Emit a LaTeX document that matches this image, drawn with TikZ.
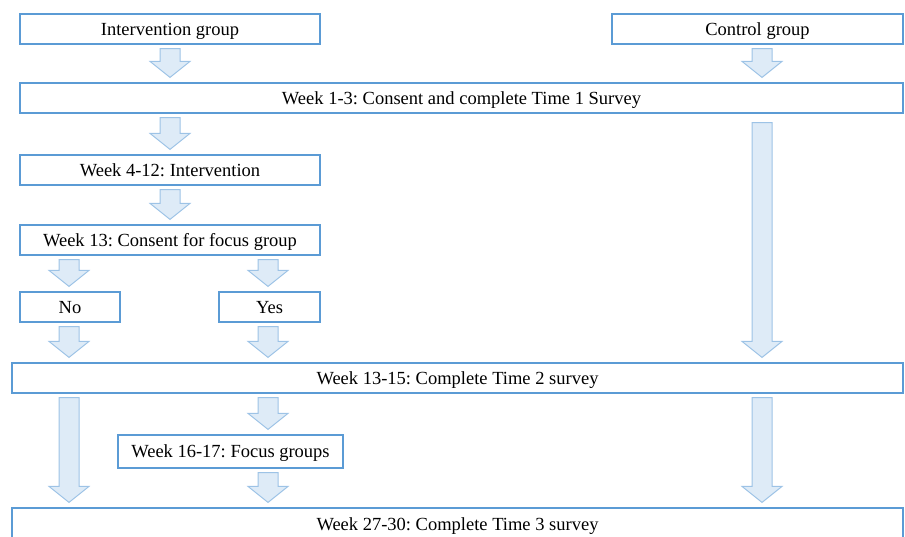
\documentclass[tikz,border=0pt]{standalone}
\usepackage{fontspec}
\setmainfont{Liberation Serif}
\usepackage{tikz}
\usetikzlibrary{calc,positioning}
\frenchspacing
\definecolor{boxblue}{RGB}{91,155,213}
\definecolor{arrline}{RGB}{157,195,230}
\definecolor{arrfill}{RGB}{222,235,247}
\tikzset{
    stagebox/.style={rectangle, draw=boxblue, line width=1.2pt, fill=white, minimum height=30, inner sep=2pt, text height=14pt, text depth=2pt, font=\fontsize{18.5}{22}\selectfont},
    flowarrow/.style={draw=arrline, fill=arrfill, line width=1pt, line join=miter}
}
\newcommand\barrow[4][4]{%
  \draw[flowarrow] let \p1=($(#2 |- #3.south)+(0,#1)$), \p2=($(#2 |- #4.north)+(0,-5)$) in
    (\x1-10pt,\y1) -- (\x1+10pt,\y1) -- (\x1+10pt,\y2+16pt) -- (\x1+20pt,\y2+16pt)
    -- (\x1,\y2) -- (\x1-20pt,\y2+16pt) -- (\x1-10pt,\y2+16pt) -- cycle;}
\begin{document}
\begin{tikzpicture}[x=1pt,y=-1pt]
    \useasboundingbox (0,0) rectangle (905,536);
    \coordinate (cA) at (170,0);
    \coordinate (cB) at (762,0);
    \coordinate (cL) at (69,0);
    \coordinate (cR) at (268,0);

    \node[stagebox, minimum width=300] (int) at (170,29) {Intervention group};
    \node[stagebox, minimum width=291] (ctl) at (757.5,29) {Control group};
    \node[stagebox, minimum width=883] (wk1) at (461.5,98) {Week 1-3: Consent and complete Time 1 Survey};
    \node[stagebox, minimum width=300] (wk4) at (170,170) {Week 4-12: Intervention};
    \node[stagebox, minimum width=300] (wk13) at (170,240) {Week 13: Consent for focus group};
    \node[stagebox, minimum width=100] (no) at (70,307) {No};
    \node[stagebox, minimum width=101] (yes) at (269.5,307) {Yes};
    \node[stagebox, minimum width=891] (wk15) at (457.5,378) {Week 13-15: Complete Time 2 survey};
    \node[stagebox, minimum width=225, minimum height=33] (fg) at (230.5,451.5) {Week 16-17: Focus groups};
    \node[stagebox, minimum width=891, minimum height=32] (wk30) at (457.5,524) {Week 27-30: Complete Time 3 survey};

    \barrow{cA}{int}{wk1}
    \barrow{cB}{ctl}{wk1}
    \barrow{cA}{wk1}{wk4}
    \barrow[9]{cB}{wk1}{wk15}
    \barrow{cA}{wk4}{wk13}
    \barrow{cL}{wk13}{no}
    \barrow{cR}{wk13}{yes}
    \barrow{cL}{no}{wk15}
    \barrow{cR}{yes}{wk15}
    \barrow{cL}{wk15}{wk30}
    \barrow{cR}{wk15}{fg}
    \barrow{cR}{fg}{wk30}
    \barrow{cB}{wk15}{wk30}
\end{tikzpicture}
\end{document}
